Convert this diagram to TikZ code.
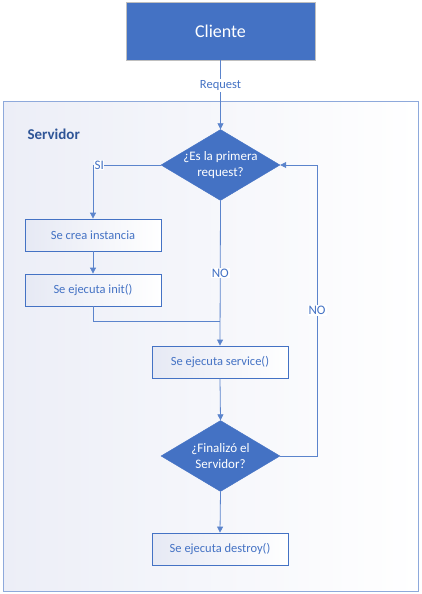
\documentclass[tikz,border=0pt]{standalone}
\usepackage{fontspec}
\setmainfont{Carlito}
\usetikzlibrary{shapes.geometric,arrows.meta}
\definecolor{mblue}{HTML}{4472C4}
\definecolor{lineblue}{HTML}{5B84CC}
\definecolor{dkblue}{HTML}{2F5597}
\definecolor{boxleft}{HTML}{E6E9F4}
\definecolor{contleft}{HTML}{ECEEF7}
\definecolor{contborder}{HTML}{8EA9DB}
\tikzset{
  procbox/.style={draw=mblue, line width=0.8pt, left color=boxleft, right color=white,
    minimum width=136pt, minimum height=32pt, inner sep=0pt, text=mblue,
    font=\fontsize{12.5}{15}\selectfont},
  decision/.style={diamond, fill=mblue, draw=mblue, minimum width=119pt, minimum height=71pt,
    inner sep=-8pt, shape aspect=1.7, text=white, align=center,
    font=\fontsize{13}{16.5}\selectfont},
  conn/.style={draw=lineblue, line width=0.8pt, -{Triangle[length=6pt,width=6pt]}},
  plainconn/.style={draw=lineblue, line width=0.8pt},
  lbl/.style={text=mblue, font=\fontsize{13}{15}\selectfont, inner sep=1pt}
}
\begin{document}
\begin{tikzpicture}[x=1pt,y=-1pt]
\useasboundingbox (0,0) rectangle (421,594);
% container
\node[draw=contborder, line width=0.8pt, left color=contleft, right color=white,
  minimum width=415pt, minimum height=490pt, inner sep=0pt] (server) at (210.5,346) {};
\node[anchor=west, text=dkblue, font=\bfseries\fontsize{15}{17}\selectfont] (servlbl) at (24,134) {Servidor};
% client
\node[fill=mblue, draw=black!25, line width=0.8pt, minimum width=189pt, minimum height=58pt,
  inner sep=0pt, text=white, font=\fontsize{18}{21}\selectfont] (client) at (220.5,31) {Cliente};
% nodes
\node[decision] (d1) at (220.5,165) {¿Es la primera\\request?};
\node[procbox] (b1) at (93,235) {Se crea instancia};
\node[procbox] (b2) at (93,290) {Se ejecuta init()};
\node[procbox] (b3) at (220,362) {Se ejecuta service()};
\node[decision] (d2) at (220.5,456) {¿Finalizó el\\Servidor?};
\node[procbox] (b4) at (220,549) {Se ejecuta destroy()};
% connectors
\draw[conn] (client.south) -- node[pos=0.37, fill=white, text=mblue, font=\fontsize{12.5}{14}\selectfont, inner sep=1.5pt] (req) {Request} (d1.north);
\draw[conn] (d1.west) -| (b1.north);
\node[lbl, anchor=west, fill=white, inner sep=0.5pt] (si) at (94,165) {SI};
\draw[conn] (b1.south) -- (b2.south |- b2.north);
\coordinate (joint) at (220,321);
\draw[plainconn] (b2.south) |- (joint);
\draw[conn] (d1.south) -- node[lbl, fill=white, pos=0.5] (no1) {NO} (b3.north);
\coordinate (loopc) at (317,456);
\coordinate (loopt) at (317,165);
\draw[conn] (d2.east) -- (loopc) -- node[lbl, fill=white, pos=0.5] (no2) {NO} (loopt) -- (d1.east);
\draw[conn] (b3.south) -- (d2.north);
\draw[conn] (d2.south) -- (b4.north);
\end{tikzpicture}
\end{document}
